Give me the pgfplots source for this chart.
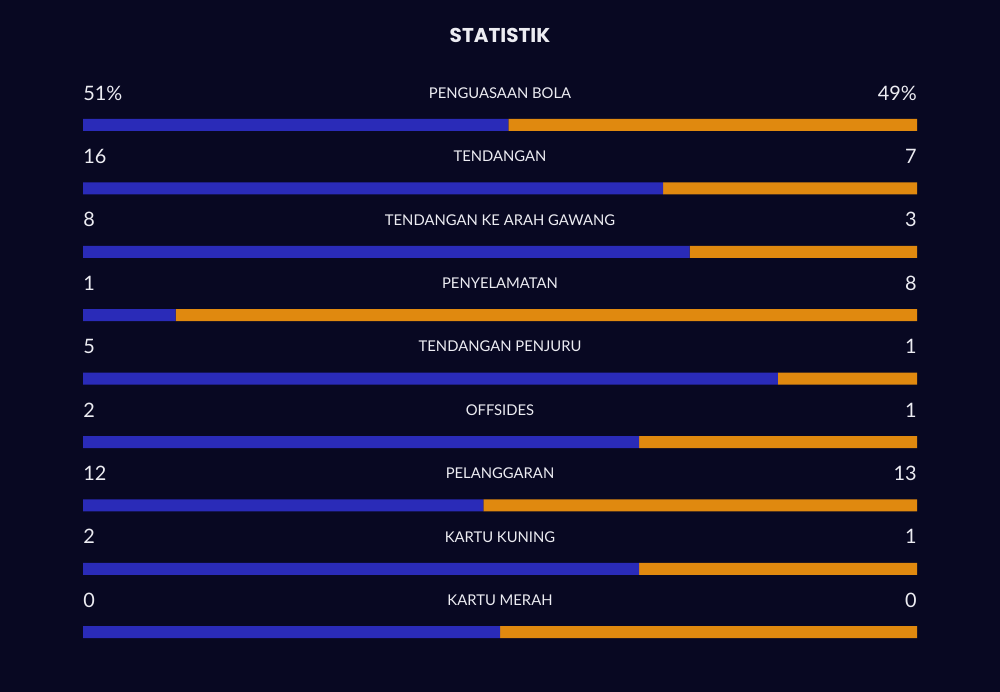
\documentclass[border=0pt]{standalone}
\usepackage{pgfplots}
\pgfplotsset{compat=1.18}
\usepackage{pgfplotstable}
\usepackage{fontspec}
\setmainfont{Lato}
\newfontfamily\titlefont{Poppins}
\definecolor{bg}{HTML}{080822}
\definecolor{cblue}{HTML}{2A2BB8}
\definecolor{corange}{HTML}{E0890F}
\definecolor{txt}{HTML}{ECECF2}
\pgfplotstableread{
y      blue   orange
125    51     49
188.4  69.57  30.43
251.8  72.73  27.27
315.2  11.11  88.89
378.6  83.33  16.67
442.0  66.67  33.33
505.4  48.00  52.00
568.8  66.67  33.33
632.2  50.00  50.00
}\stats
\tikzset{
  lab/.style={text=txt, font=\fontsize{11.1}{13}\selectfont},
  lnum/.style={text=txt, anchor=west, inner sep=0pt, font=\fontsize{14.9}{17}\selectfont},
  rnum/.style={text=txt, anchor=east, inner sep=0pt, font=\fontsize{14.9}{17}\selectfont},
}
\begin{document}
\begin{tikzpicture}
\fill[bg] (0,0) rectangle (750pt,519pt);
\begin{axis}[
  at={(0,0)}, anchor=south west,
  scale only axis, width=750pt, height=519pt,
  xmin=-9.952, xmax=109.952, ymin=0, ymax=692, y dir=reverse,
  hide axis, clip=false,
  xbar stacked, bar width=9pt,
]
\addplot[fill=cblue, draw=none] table[x=blue, y=y] {\stats};
\addplot[fill=corange, draw=none] table[x=orange, y=y] {\stats};
\node[text=txt, font=\titlefont\bfseries\fontsize{15}{18}\selectfont] at (axis cs:50,35) {STATISTIK};
\node[lab] at (axis cs:50,93) {PENGUASAAN BOLA};
\node[lnum] at (axis cs:0,93) {51\%};
\node[rnum] at (axis cs:100,93) {49\%};
\node[lab] at (axis cs:50,156.4) {TENDANGAN};
\node[lnum] at (axis cs:0,156.4) {16};
\node[rnum] at (axis cs:100,156.4) {7};
\node[lab] at (axis cs:50,219.8) {TENDANGAN KE ARAH GAWANG};
\node[lnum] at (axis cs:0,219.8) {8};
\node[rnum] at (axis cs:100,219.8) {3};
\node[lab] at (axis cs:50,283.2) {PENYELAMATAN};
\node[lnum] at (axis cs:0,283.2) {1};
\node[rnum] at (axis cs:100,283.2) {8};
\node[lab] at (axis cs:50,346.6) {TENDANGAN PENJURU};
\node[lnum] at (axis cs:0,346.6) {5};
\node[rnum] at (axis cs:100,346.6) {1};
\node[lab] at (axis cs:50,410) {OFFSIDES};
\node[lnum] at (axis cs:0,410) {2};
\node[rnum] at (axis cs:100,410) {1};
\node[lab] at (axis cs:50,473.4) {PELANGGARAN};
\node[lnum] at (axis cs:0,473.4) {12};
\node[rnum] at (axis cs:100,473.4) {13};
\node[lab] at (axis cs:50,536.8) {KARTU KUNING};
\node[lnum] at (axis cs:0,536.8) {2};
\node[rnum] at (axis cs:100,536.8) {1};
\node[lab] at (axis cs:50,600.2) {KARTU MERAH};
\node[lnum] at (axis cs:0,600.2) {0};
\node[rnum] at (axis cs:100,600.2) {0};
\end{axis}
\end{tikzpicture}
\end{document}
